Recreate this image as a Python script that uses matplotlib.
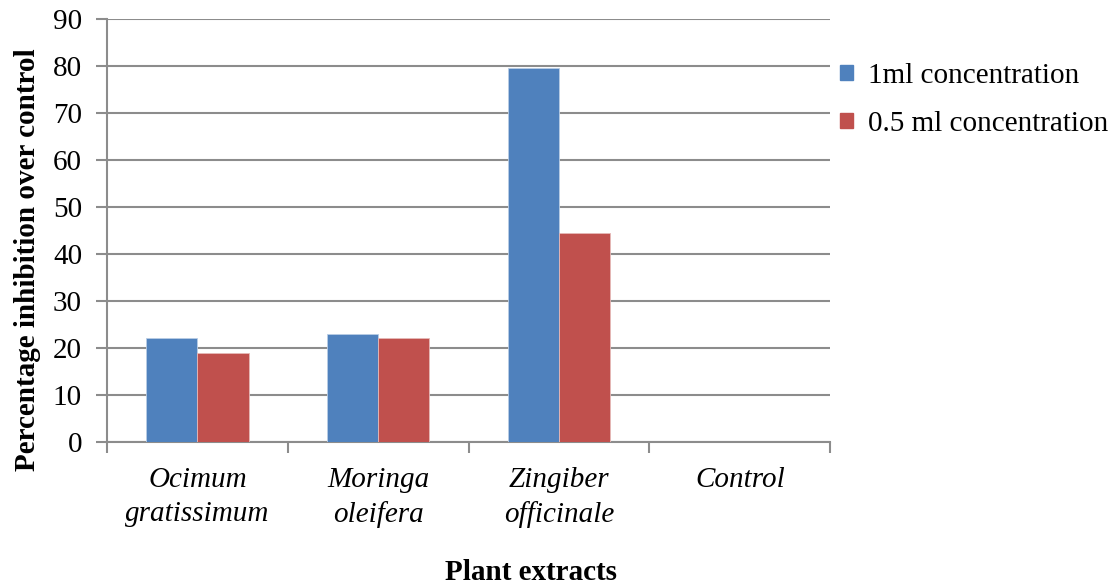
import numpy as np
import matplotlib.pyplot as plt
from matplotlib import rcParams
from matplotlib.patches import Patch

# data
categories = ['Ocimum\ngratissimum', 'Moringa\noleifera', 'Zingiber\nofficinale', 'Control']
conc_1ml = [22.1, 23.0, 79.5, 0]
conc_05ml = [18.9, 22.1, 44.4, 0]
series_names = ['1ml concentration', '0.5 ml concentration']
y_ticks = np.arange(0, 91, 10)

BLUE = '#4F81BD'
RED = '#C0504D'
GRID = '#8C8C8C'
FS = 21

rcParams['font.family'] = 'Liberation Serif'
rcParams['font.size'] = FS

fig = plt.figure(figsize=(11.17, 5.88), dpi=100)
ax = fig.add_axes([0.0958, 0.2483, 0.6474, 0.7194])

x = np.arange(len(categories))
width = 0.283
ax.bar(x - width / 2, conc_1ml, width=width, color=BLUE, edgecolor='#B9CDE5', linewidth=0.6, zorder=3)
ax.bar(x + width / 2, conc_05ml, width=width, color=RED, edgecolor='#E6B9B8', linewidth=0.6, zorder=3)

ax.set_xlim(-0.5, len(categories) - 0.5)
ax.set_ylim(0, 90)
ax.set_yticks(y_ticks)
ax.grid(axis='y', color=GRID, linewidth=1.5, zorder=0)

# category labels sit between the boundary ticks
ax.set_xticks(np.arange(-0.5, len(categories)), minor=False)
ax.set_xticklabels([])
ax.set_xticks(x, minor=True)
ax.set_xticklabels(categories, minor=True, fontstyle='italic', fontsize=FS, linespacing=1.38)
ax.tick_params(axis='x', which='minor', length=0, pad=18)
ax.tick_params(axis='x', which='major', length=8, color=GRID, width=1.5)
ax.tick_params(axis='y', length=8, color=GRID, width=1.5, labelsize=FS, pad=10)

for side in ['top', 'right']:
    ax.spines[side].set_visible(False)
for side in ['left', 'bottom']:
    ax.spines[side].set_color(GRID)
    ax.spines[side].set_linewidth(1.5)

fig.text(28 / 1117, 1 - 260 / 588, 'Percentage inhibition over control', fontweight='bold',
         fontsize=FS, rotation=90, ha='center', va='center')
fig.text(531 / 1117, 1 - 572 / 588, 'Plant extracts', fontweight='bold', fontsize=FS,
         ha='center', va='center')

handles = [Patch(color=BLUE), Patch(color=RED)]
fig.legend(handles, series_names, loc='upper left', bbox_to_anchor=(0.752, 0.893),
           frameon=False, fontsize=FS, handlelength=0.45, handleheight=0.45,
           handletextpad=0.5, labelspacing=0.75, borderaxespad=0, borderpad=0)

fig.savefig('out.png', dpi=100)
